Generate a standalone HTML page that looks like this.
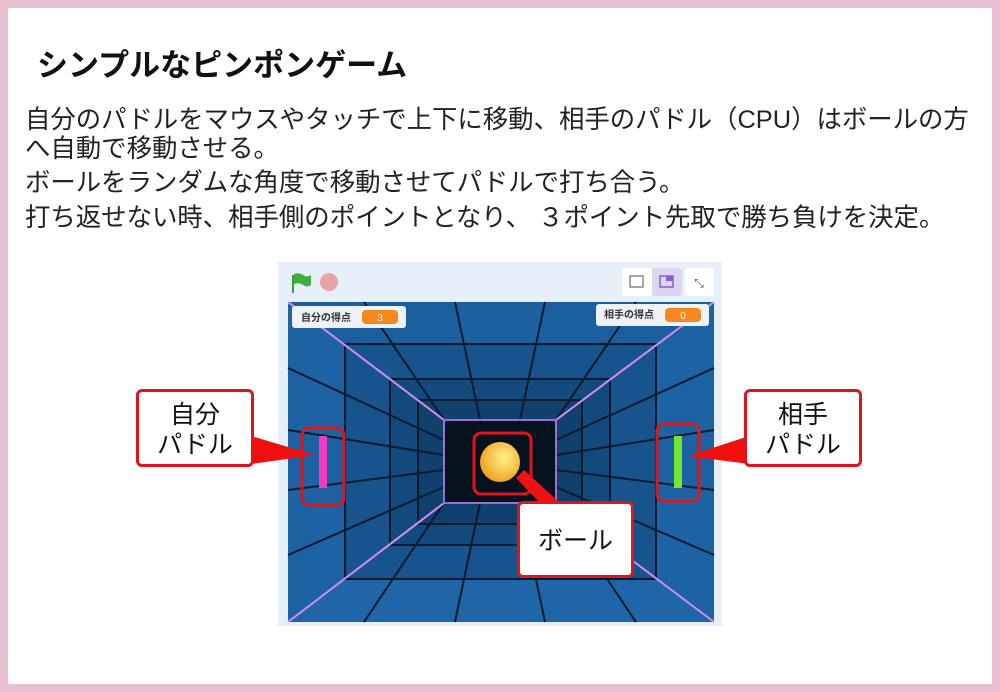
<!DOCTYPE html>
<html><head><meta charset="utf-8"><style>
body{margin:0;width:1000px;height:692px;overflow:hidden;background:#fff;font-family:"Liberation Sans","Noto Sans CJK JP",sans-serif;}
.frame{position:absolute;left:0;top:0;width:984px;height:676px;border:8px solid #e9c0d1;background:#fff;}
.t{position:absolute;white-space:nowrap;color:#111;}
.b{position:absolute;font-size:25.4px;color:#222;white-space:nowrap;letter-spacing:0px;}
.callout{position:absolute;background:#fff;border:3px solid #e0141c;border-radius:6px;box-sizing:border-box;text-align:center;color:#111;font-size:25px;line-height:30px;}
</style></head><body>
<div class="frame"></div>
<div class="t" style="left:37px;top:40px;font-size:31px;font-weight:bold;">シンプルなピンポンゲーム</div>
<div class="b" style="left:25px;top:100px;">自分のパドルをマウスやタッチで上下に移動、相手のパドル（CPU）はボールの方</div>
<div class="b" style="left:25px;top:129px;">へ自動で移動させる。</div>
<div class="b" style="left:25px;top:163px;">ボールをランダムな角度で移動させてパドルで打ち合う。</div>
<div class="b" style="left:25px;top:198px;">打ち返せない時、相手側のポイントとなり、 ３ポイント先取で勝ち負けを決定。</div>

<svg style="position:absolute;left:0;top:0" width="1000" height="692">
<rect x="278" y="262" width="444" height="364" fill="#e7f0fa"/>
<path d="M293 275 v18" stroke="#3d9c3d" stroke-width="2"/>
<path d="M294 274 q5 -2 9 1 q4 3 8 0 v10 q-4 3 -8 0 q-4 -3 -9 -1z" fill="#3fae3f"/>
<circle cx="329" cy="282" r="9" fill="#e8a3a8"/>
<rect x="622" y="268" width="30" height="28" rx="3" fill="#fff"/>
<rect x="652" y="268" width="30" height="28" rx="3" fill="#dcd6f2"/>
<rect x="685" y="268" width="29" height="28" rx="3" fill="#fff"/>
<rect x="630" y="276" width="13" height="11" fill="none" stroke="#888" stroke-width="1.5"/>
<rect x="660" y="276" width="13" height="11" fill="none" stroke="#8a5cd6" stroke-width="1.5"/><rect x="666" y="276" width="7" height="5" fill="#8a5cd6"/>
<text x="699" y="287" font-size="12" text-anchor="middle" fill="#555">⤡</text>
<rect x="288" y="302" width="426" height="320" fill="#1d62a3"/>
<polygon points="288,302 714,302 656,344 345,344" fill="#1b5f9f"/>
<polygon points="288,622 714,622 656,579 345,579" fill="#1e66a8"/>
<rect x="345" y="344" width="311" height="235" fill="#17548e"/>
<rect x="390" y="379" width="220" height="166" fill="#134a7e"/>
<rect x="418" y="400" width="164" height="124" fill="#10406d"/>
<rect x="444" y="420" width="112" height="83" fill="#06121d"/>
<g stroke="#0a1a2c" stroke-width="2" fill="none">
<rect x="345" y="344" width="311" height="235"/>
<rect x="390" y="379" width="220" height="166"/>
<rect x="418" y="400" width="164" height="124"/>
<line x1="364" y1="302" x2="444" y2="420"/><line x1="455" y1="302" x2="480" y2="420"/><line x1="545" y1="302" x2="520" y2="420"/><line x1="636" y1="302" x2="556" y2="420"/>
<line x1="364" y1="622" x2="444" y2="503"/><line x1="455" y1="622" x2="480" y2="503"/><line x1="545" y1="622" x2="520" y2="503"/><line x1="636" y1="622" x2="556" y2="503"/>
<line x1="288" y1="368" x2="444" y2="440"/><line x1="288" y1="430" x2="444" y2="455"/><line x1="288" y1="490" x2="444" y2="470"/><line x1="288" y1="555" x2="444" y2="487"/>
<line x1="714" y1="368" x2="556" y2="440"/><line x1="714" y1="430" x2="556" y2="455"/><line x1="714" y1="490" x2="556" y2="470"/><line x1="714" y1="555" x2="556" y2="487"/>
</g>
<g stroke="#d48cf0" stroke-width="2">
<line x1="288" y1="302" x2="444" y2="420"/><line x1="714" y1="302" x2="556" y2="420"/>
<line x1="288" y1="622" x2="444" y2="503"/><line x1="714" y1="622" x2="556" y2="503"/>
</g>
<rect x="444" y="420" width="112" height="83" fill="none" stroke="#9a70c8" stroke-width="2"/>
<rect x="292" y="306" width="114" height="22" rx="3" fill="#eef3f9"/>
<text x="301" y="321" font-size="10" font-weight="bold" fill="#333" font-family="Liberation Sans,Noto Sans CJK JP,sans-serif">自分の得点</text>
<rect x="362" y="310" width="36" height="14" rx="4" fill="#f6881e"/>
<text x="380" y="321" font-size="10" fill="#fff" text-anchor="middle">3</text>
<rect x="596" y="304" width="113" height="22" rx="3" fill="#eef3f9"/>
<text x="604" y="318" font-size="10" font-weight="bold" fill="#333" font-family="Liberation Sans,Noto Sans CJK JP,sans-serif">相手の得点</text>
<rect x="665" y="308" width="36" height="14" rx="4" fill="#f6881e"/>
<text x="683" y="319" font-size="10" fill="#fff" text-anchor="middle">0</text>
<rect x="319" y="436" width="8" height="52" fill="#f23ac0"/>
<rect x="674" y="436" width="8" height="52" fill="#6ee830"/>
<defs><radialGradient id="g" cx="0.6" cy="0.4" r="0.6"><stop offset="0" stop-color="#fff18a"/><stop offset="1" stop-color="#f2a424"/></radialGradient></defs>
<circle cx="500" cy="462" r="20" fill="url(#g)"/>
<g fill="none" stroke="#e0141c" stroke-width="3">
<rect x="302" y="428" width="42" height="77" rx="7"/>
<rect x="657" y="424" width="42" height="77" rx="7"/>
<rect x="474" y="433" width="57" height="61" rx="7"/>
</g>
<polygon points="251,436 251,464 315,455" fill="#f01010"/>
<polygon points="749,436 749,464 688,456" fill="#f01010"/>
<polygon points="516,478 524,470 560,503 540,503" fill="#f01010"/>
</svg>
<div class="callout" style="left:136px;top:389px;width:118px;height:78px;padding-top:8px;">自分<br>パドル</div>
<div class="callout" style="left:744px;top:389px;width:118px;height:78px;padding-top:8px;">相手<br>パドル</div>
<div class="callout" style="left:517px;top:501px;width:117px;height:77px;padding-top:22px;">ボール</div>
</body></html>
